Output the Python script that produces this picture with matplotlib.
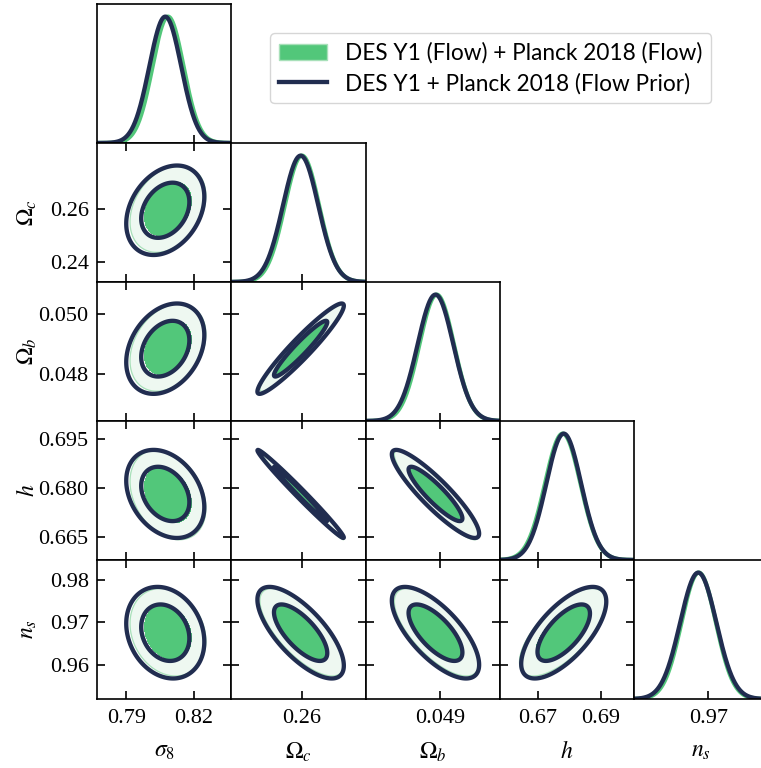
import numpy as np
import matplotlib
matplotlib.use("Agg")
import matplotlib.pyplot as plt
from matplotlib.patches import Patch
from matplotlib.lines import Line2D

# ---------------- data ----------------
param_labels = [r"$\sigma_8$", r"$\Omega_c$", r"$\Omega_b$", r"$h$", r"$n_s$"]

# DES Y1 (Flow) + Planck 2018 (Flow)  -- filled green
flow_mean = [0.8086, 0.2600, 0.04889, 0.6779, 0.9677]
flow_std = [0.0069, 0.0067, 0.00060, 0.0056, 0.0042]

# DES Y1 + Planck 2018 (Flow Prior)  -- navy lines
prior_mean = [0.8074, 0.2595, 0.04885, 0.6782, 0.9676]
prior_std = [0.0071, 0.0069, 0.00062, 0.0055, 0.0044]

# pairwise correlations (i < j)
corr_pairs = [(0, 1), (0, 2), (0, 3), (0, 4), (1, 2), (1, 3), (1, 4), (2, 3), (2, 4), (3, 4)]
corr_values = [0.30, 0.30, -0.30, -0.20, 0.95, -0.99, -0.72, -0.90, -0.70, 0.68]

axis_ranges = [(0.777, 0.8368), (0.2324, 0.2849), (0.04642, 0.05109), (0.658, 0.7005), (0.952, 0.9847)]

x_ticks = [[0.79, 0.82], [0.26], [0.049], [0.67, 0.69], [0.97]]
x_ticklabels = [["0.79", "0.82"], ["0.26"], ["0.049"], ["0.67", "0.69"], ["0.97"]]
y_ticks = [[], [0.24, 0.26], [0.048, 0.050], [0.665, 0.680, 0.695], [0.96, 0.97, 0.98]]
y_ticklabels = [[], ["0.24", "0.26"], ["0.048", "0.050"], ["0.665", "0.680", "0.695"], ["0.96", "0.97", "0.98"]]

legend_labels = ["DES Y1 (Flow) + Planck 2018 (Flow)", "DES Y1 + Planck 2018 (Flow Prior)"]

# ---------------- style ----------------
GREEN = "#52c77a"
GREEN_LIGHT = "#eef8f1"
GREEN_EDGE = "#a8e0b9"
NAVY = "#212d50"
LW = 3.1

plt.rcParams["font.family"] = ["Liberation Serif", "DejaVu Serif"]
plt.rcParams["mathtext.fontset"] = "stix"

W, H = 761, 768
fig = plt.figure(figsize=(W / 100, H / 100), dpi=100)

n = len(param_labels)
x0, pw = 97.0, 134.3
y0, ph = 4.0, 139.0

corr = np.eye(n)
for (i, j), r in zip(corr_pairs, corr_values):
    corr[i, j] = corr[j, i] = r

lev95 = np.exp(-0.5 * 5.991)
lev68 = np.exp(-0.5 * 2.279)


def gauss2d(X, Y, mean, std, i, j):
    dx = (X - mean[j]) / std[j]
    dy = (Y - mean[i]) / std[i]
    r = corr[i, j]
    d2 = (dx ** 2 - 2 * r * dx * dy + dy ** 2) / (1 - r ** 2)
    return np.exp(-0.5 * d2)


for i in range(n):
    for j in range(i + 1):
        left = (x0 + j * pw) / W
        bottom = 1 - (y0 + (i + 1) * ph) / H
        ax = fig.add_axes([left, bottom, pw / W, ph / H])
        for s in ax.spines.values():
            s.set_linewidth(1.2)
        xr = axis_ranges[j]
        if i == j:
            xs = np.linspace(xr[0], xr[1], 400)
            yf = np.exp(-0.5 * ((xs - flow_mean[i]) / flow_std[i]) ** 2)
            yp = np.exp(-0.5 * ((xs - prior_mean[i]) / prior_std[i]) ** 2)
            ax.plot(xs, yf, color=GREEN, lw=LW, solid_capstyle="round")
            ax.plot(xs, yp, color=NAVY, lw=LW, solid_capstyle="round")
            ax.set_ylim(0, 1.1)
            ax.set_xlim(*xr)
            ax.set_yticks([])
            ax.tick_params(axis="x", direction="in", length=6, width=1.2, top=False, bottom=True)
        else:
            yr = axis_ranges[i]
            xs = np.linspace(xr[0], xr[1], 300)
            ys = np.linspace(yr[0], yr[1], 300)
            X, Y = np.meshgrid(xs, ys)
            Zf = gauss2d(X, Y, flow_mean, flow_std, i, j)
            Zp = gauss2d(X, Y, prior_mean, prior_std, i, j)
            ax.contourf(X, Y, Zf, levels=[lev95, lev68, 1.5], colors=[GREEN_LIGHT, GREEN])
            ax.contour(X, Y, Zf, levels=[lev95], colors=[GREEN_EDGE], linewidths=0.9)
            ax.contour(X, Y, Zp, levels=[lev95, lev68], colors=[NAVY], linewidths=LW)
            ax.set_xlim(*xr)
            ax.set_ylim(*yr)
            ax.set_yticks(y_ticks[i])
            ax.tick_params(axis="both", direction="in", length=6, width=1.2,
                           top=True, bottom=True, left=True, right=True)
        ax.set_xticks(x_ticks[j])
        if i == n - 1:
            ax.set_xticklabels(x_ticklabels[j], fontsize=16)
            ax.tick_params(axis="x", pad=7)
            ax.set_xlabel(param_labels[j], fontsize=17)
            ax.xaxis.set_label_coords(0.5, -0.30)
        else:
            ax.set_xticklabels([])
        if j == 0 and i > 0:
            ax.set_yticklabels(y_ticklabels[i], fontsize=16)
            ax.tick_params(axis="y", pad=6)
            ax.set_ylabel(param_labels[i], fontsize=17)
            ax.yaxis.set_label_coords(-0.43, 0.5)
        elif i != j:
            ax.set_yticklabels([])

handles = [Patch(facecolor=GREEN, edgecolor=GREEN_EDGE, linewidth=1.0),
           Line2D([], [], color=NAVY, lw=LW)]
fig.legend(handles, legend_labels, loc="upper left",
           bbox_to_anchor=(270 / W, 1 - 33 / H), borderaxespad=0.0,
           prop={"family": ["Lato", "DejaVu Sans"], "size": 16.3},
           handlelength=2.1, handletextpad=0.8, labelspacing=0.4,
           borderpad=0.4, fancybox=True, edgecolor="#cccccc")

fig.savefig("out.png", dpi=100)
